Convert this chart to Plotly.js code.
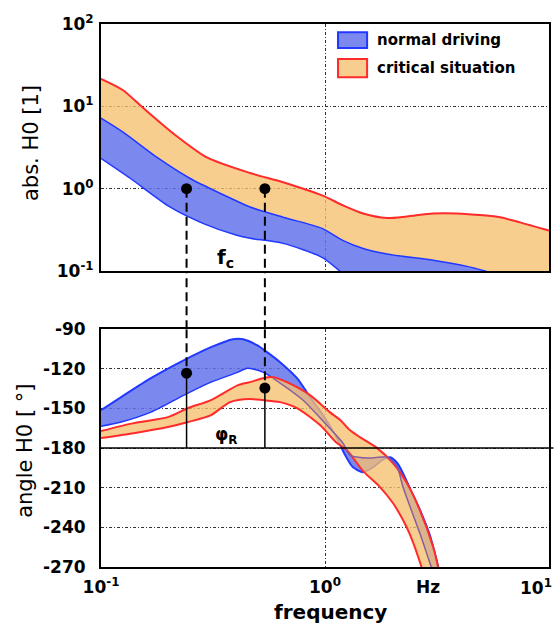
<!DOCTYPE html>
<html><head><meta charset="utf-8">
<script src="https://cdn.plot.ly/plotly-3.0.1.min.js"></script>
<style>html,body{margin:0;padding:0;background:#fff}#chart{width:554px;height:626px}</style>
</head><body><div id="chart"></div>
<script>
// ---------------- data ----------------
// top panel: magnitude |H0| [1]
const absCritUpperF = [0.1, 0.125, 0.154, 0.21, 0.297, 0.463, 0.65, 0.97, 1.2, 1.48, 1.89, 2.32, 3.04, 3.88, 5.07, 6.04, 7.42, 10];
const absCritUpperV = [21.6, 15.8, 9.6, 4.7, 2.4, 1.55, 1.2, 0.83, 0.63, 0.5, 0.44, 0.46, 0.5, 0.5, 0.475, 0.45, 0.39, 0.31];
const absNormUpperF = [0.1, 0.125, 0.178, 0.249, 0.34, 0.463, 0.65, 0.97, 1.2, 1.48, 1.95, 3.04, 4.31, 5.28];
const absNormUpperV = [7.2, 4.9, 2.4, 1.34, 0.88, 0.6, 0.45, 0.33, 0.236, 0.188, 0.159, 0.135, 0.114, 0.099];
const absCritLowerTailF = [6.0, 10];
const absCritLowerTailV = [0.06, 0.06];
const absNormLowerF = [0.1, 0.135, 0.203, 0.285, 0.404, 0.463, 0.65, 0.97, 1.17, 1.43];
const absNormLowerV = [2.34, 1.34, 0.6, 0.38, 0.272, 0.25, 0.217, 0.147, 0.099, 0.06];

// bottom panel: angle H0 [deg]
const angNormAF = [0.1, 0.123, 0.167, 0.235, 0.310, 0.388, 0.431, 0.497, 0.551, 0.630, 0.750, 0.857, 0.980, 1.13, 1.23, 1.33, 1.48, 1.64, 1.82, 1.95, 2.10, 2.23, 2.40, 2.65, 2.94, 3.16, 3.3];
const angNormAV = [-151.3, -141.4, -127.1, -113.4, -103.6, -97.6, -97.6, -102.1, -107.4, -115.0, -127.1, -141.4, -155.0, -172.4, -185.3, -194.4, -198.2, -194.5, -188.5, -187, -191.3, -199, -211, -226.5, -246, -266, -280];
const angNormBF = [0.1, 0.123, 0.167, 0.235, 0.310, 0.409, 0.449, 0.528, 0.586, 0.698, 0.798, 0.950, 1.05, 1.2, 1.3, 1.59, 1.89, 2.10, 2.23, 2.40, 2.65, 2.94, 3.2];
const angNormBV = [-163.5, -160.3, -152.8, -139.9, -130.1, -122.5, -119.5, -122.5, -127.1, -136.1, -143.7, -157, -165, -176, -185.5, -187.6, -186.8, -194.4, -209.5, -224.6, -244.3, -267, -285];
const angCritUpperF = [0.1, 0.140, 0.199, 0.245, 0.310, 0.409, 0.463, 0.528, 0.586, 0.676, 0.857, 1.05, 1.17, 1.29, 1.43, 1.71, 2.01, 2.32, 2.65, 3.04, 3.3];
const angCritUpperV = [-167.1, -161.1, -156.6, -149.7, -143.7, -132.4, -130.1, -127.1, -126.3, -130.1, -139.9, -152.8, -158.8, -166.4, -171.7, -180.0, -191.3, -206.5, -226.9, -254.9, -280];
const angCritLowerF = [0.1, 0.140, 0.199, 0.245, 0.310, 0.377, 0.463, 0.528, 0.630, 0.750, 0.950, 1.13, 1.25, 1.48, 1.76, 2.01, 2.23, 2.40, 2.65, 2.8];
const angCritLowerV = [-172.4, -168.7, -164.1, -160.3, -155.0, -145.2, -142.9, -143.7, -145.2, -149.7, -162.6, -176.2, -181.5, -197.4, -209.5, -221.6, -234.5, -245.8, -266, -280];

// marker points (f_c construction)
const markerF = [0.241, 0.539];
const markerAbs = [1, 1];
const markerAng = [-123.3, -134.6];

// tick labels
const absTickVals = [0.1, 1, 10, 100];
const absTickText = ['10<sup>-1</sup>', '10<sup>0</sup>', '10<sup>1</sup>', '10<sup>2</sup>'];
const angTickVals = [-90, -120, -150, -180, -210, -240, -270];
const angTickText = ['-90', '-120', '-150', '-180', '-210', '-240', '-270'];
const freqTickVals = [0.1, 1, 10];
const freqTickText = ['10<sup>-1</sup>', '10<sup>0</sup>', '10<sup>1</sup>'];
const unitLabel = 'Hz';
const unitLabelF = 2.89;
const seriesNames = ['normal driving', 'critical situation'];

// ---------------- styling ----------------
const RED = '#ff2a2a', BLUE = '#2038ff', PURPLE = '#8a5a9e';
const BLUEFILL = 'rgba(100,115,235,0.85)';
const ORANGEFILL = 'rgba(246,192,112,0.78)';
const FONT = '"DejaVu Sans", sans-serif';
const lg = Math.log10;
const SP = {shape:'spline', smoothing:0.7};
const ln = (o) => Object.assign({}, SP, o);

const traces = [];
// top: critical band
traces.push({x: absNormUpperF.concat(absCritLowerTailF), y: absNormUpperV.concat(absCritLowerTailV), xaxis:'x', yaxis:'y', mode:'lines', line:ln({width:0, color:'rgba(0,0,0,0)'})});
traces.push({x: absCritUpperF, y: absCritUpperV, xaxis:'x', yaxis:'y', mode:'lines', fill:'tonexty', fillcolor: ORANGEFILL, line:ln({color:RED, width:2}), name: seriesNames[1]});
// top: normal band
traces.push({x: absNormLowerF, y: absNormLowerV, xaxis:'x', yaxis:'y', mode:'lines', line:ln({color:BLUE, width:1.5})});
traces.push({x: absNormUpperF, y: absNormUpperV, xaxis:'x', yaxis:'y', mode:'lines', fill:'tonexty', fillcolor: BLUEFILL, line:ln({color:BLUE, width:1.5}), name: seriesNames[0]});

// bottom: normal band
traces.push({x: angNormBF, y: angNormBV, xaxis:'x2', yaxis:'y2', mode:'lines', line:ln({color:BLUE, width:1.5})});
traces.push({x: angNormAF, y: angNormAV, xaxis:'x2', yaxis:'y2', mode:'lines', fill:'tonexty', fillcolor: BLUEFILL, line:ln({color:BLUE, width:2})});
// bottom: critical band
traces.push({x: angCritLowerF, y: angCritLowerV, xaxis:'x2', yaxis:'y2', mode:'lines', line:ln({color:RED, width:2})});
traces.push({x: angCritUpperF, y: angCritUpperV, xaxis:'x2', yaxis:'y2', mode:'lines', fill:'tonexty', fillcolor: ORANGEFILL, line:ln({color:RED, width:2})});
// normal-band line seen through the critical band
const idx = angNormBF.map((f,i)=>i).filter(i => angNormBF[i] >= 0.55);
traces.push({x: idx.map(i=>angNormBF[i]), y: idx.map(i=>angNormBV[i]), xaxis:'x2', yaxis:'y2', mode:'lines', line:ln({color:PURPLE, width:1.3})});

// construction lines (dashed from |H0|=1 down to the phase points, solid down to -180 deg)
const DASH = {color:'#000', width:2, dash:'9px,5px'};
markerF.forEach((f, i) => {
  traces.push({x:[f, f], y:[markerAbs[i], absTickVals[0]], xaxis:'x', yaxis:'y', mode:'lines', line:DASH});
  traces.push({x:[f, f], y:[0, 1], xaxis:'x3', yaxis:'y3', mode:'lines', line:DASH});
  traces.push({x:[f, f], y:[angTickVals[0], markerAng[i]], xaxis:'x2', yaxis:'y2', mode:'lines', line:DASH});
  traces.push({x:[f, f], y:[markerAng[i], -180], xaxis:'x2', yaxis:'y2', mode:'lines', line:{color:'#000', width:1.5}});
});
// markers
traces.push({x: markerF, y: markerAbs, xaxis:'x', yaxis:'y', mode:'markers', marker:{color:'#000', size:11}});
traces.push({x: markerF, y: markerAng, xaxis:'x2', yaxis:'y2', mode:'markers', marker:{color:'#000', size:11}});
traces.forEach(t => { t.showlegend = false; t.hoverinfo = 'skip'; });

// ---------------- layout ----------------
const TOPDOM = [0.545, 1], BOTDOM = [0, 0.438];
const gridStyle = {showgrid:true, gridcolor:'#333', gridwidth:1, griddash:'3px,2px,1px,2px'};
const axLine = {showline:true, mirror:true, linecolor:'#000', linewidth:2, ticks:'', zeroline:false};
const tickFont = {family: FONT, size: 17, color: '#000', weight: 'bold'};

const shapes = [];
shapes.push({type:'line', xref:'x2 domain', yref:'y2', x0:0, x1:1.01, y0:-180, y1:-180, line:{color:'#000', width:1.5}});
// legend swatches
shapes.push({type:'rect', xref:'paper', yref:'paper', x0:0.529, x1:0.594, y0:0.956, y1:0.985, fillcolor:BLUEFILL, line:{color:BLUE, width:2}});
shapes.push({type:'rect', xref:'paper', yref:'paper', x0:0.529, x1:0.594, y0:0.902, y1:0.9355, fillcolor:ORANGEFILL, line:{color:RED, width:2}});

// the last frequency tick label sits at the right page edge: draw it right-aligned so it stays whole
const lastTick = freqTickText.length - 1;
const freqTickTextShown = freqTickText.map((t, i) => i === lastTick ? '' : t);

const annotations = [
  {text: seriesNames[0], xref:'paper', yref:'paper', x:0.612, y:0.970, xanchor:'left', yanchor:'middle', showarrow:false, font:{family:FONT, size:15, color:'#000', weight:'bold'}},
  {text: seriesNames[1], xref:'paper', yref:'paper', x:0.612, y:0.919, xanchor:'left', yanchor:'middle', showarrow:false, font:{family:FONT, size:15, color:'#000', weight:'bold'}},
  {text: 'abs. H0 [1]', xref:'paper', yref:'paper', x:-0.156, y:0.781, textangle:-90, xanchor:'center', yanchor:'middle', showarrow:false, font:{family:FONT, size:21, color:'#000'}},
  {text: 'angle H0 [ °]', xref:'paper', yref:'paper', x:-0.170, y:0.2136, textangle:-90, xanchor:'center', yanchor:'middle', showarrow:false, font:{family:FONT, size:21, color:'#000'}},
  {text: 'frequency', xref:'paper', yref:'paper', x:0.513, y:-0.083, xanchor:'center', yanchor:'middle', showarrow:false, font:{family:FONT, size:20, color:'#000', weight:'bold'}},
  {text: unitLabel, xref:'x2', yref:'paper', x:lg(unitLabelF), y:-0.037, xanchor:'center', yanchor:'middle', showarrow:false, font:tickFont},
  {text: freqTickText[lastTick], xref:'paper', yref:'paper', x:1.008, y:-0.037, xanchor:'right', yanchor:'middle', showarrow:false, font:tickFont, borderpad:0},
  {text: 'f<sub>c</sub>', xref:'x', yref:'y', x:-0.446, y:-0.84, xanchor:'center', yanchor:'middle', showarrow:false, font:{family:FONT, size:20, color:'#000', weight:'bold'}},
  {text: 'φ<sub>R</sub>', xref:'x2', yref:'y2', x:-0.442, y:-170.5, xanchor:'center', yanchor:'middle', showarrow:false, font:{family:FONT, size:17, color:'#000', weight:'bold'}}
];

const layout = {
  width:554, height:626,
  margin:{l:101, r:5, t:24, b:59},
  paper_bgcolor:'#fff', plot_bgcolor:'#fff',
  showlegend:false, hovermode:false,
  xaxis: Object.assign({type:'log', range:[-1,1], domain:[0,1], anchor:'y', showticklabels:false, tickvals:freqTickVals}, axLine, gridStyle),
  yaxis: Object.assign({type:'log', range:[-1,2], domain:TOPDOM, anchor:'x', tickvals:absTickVals, ticktext:absTickText, tickfont:tickFont, ticklabelstandoff:2}, axLine, gridStyle),
  xaxis2: Object.assign({type:'log', range:[-1,1], domain:[0,1], anchor:'y2', tickvals:freqTickVals, ticktext:freqTickTextShown, tickfont:tickFont, ticklabelstandoff:4}, axLine, gridStyle),
  yaxis2: Object.assign({range:[-270,-90], domain:BOTDOM, anchor:'x2', tickvals:angTickVals, ticktext:angTickText, tickfont:tickFont, ticklabelstandoff:10}, axLine, gridStyle),
  // helper frame spanning the gap between the two panels
  xaxis3: {type:'log', range:[-1,1], domain:[0,1], anchor:'y3', visible:false, showgrid:false, zeroline:false},
  yaxis3: {range:[0,1], domain:[BOTDOM[1], TOPDOM[0]], anchor:'x3', visible:false, showgrid:false, zeroline:false},
  shapes: shapes,
  annotations: annotations
};

Plotly.newPlot('chart', traces, layout, {staticPlot:true, displayModeBar:false});
</script>
</body></html>
